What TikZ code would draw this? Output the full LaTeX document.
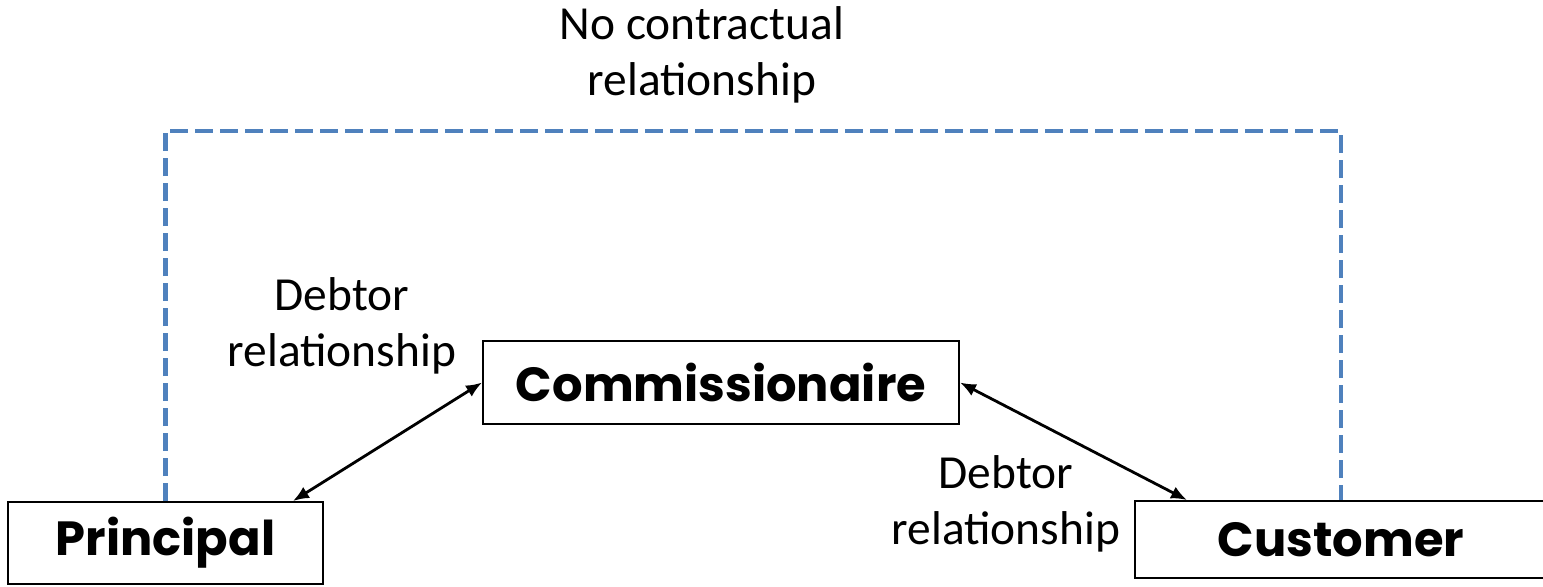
\documentclass[tikz,border=0pt]{standalone}
\usepackage{fontspec}
\setmainfont{Carlito}
\newfontfamily\boxfont{Poppins}
\usepackage{tikz}
\usetikzlibrary{arrows.meta,positioning,calc}
\usepackage{xcolor}
\definecolor{dashblue}{RGB}{79,129,189}

\tikzset{
  partybox/.style={draw, line width=1.1pt, inner sep=0pt, font=\boxfont\bfseries\fontsize{27.3}{32}\selectfont},
  relabel/.style={align=center, inner sep=0pt, font=\fontsize{27}{32}\selectfont},
  debtarrow/.style={{Latex[length=0.32cm,width=0.26cm]}-{Latex[length=0.32cm,width=0.26cm]}, line width=1.6pt},
}

\begin{document}
\begin{tikzpicture}[x=0.02cm, y=-0.02cm]

\useasboundingbox (0,0) rectangle (1543,586);

% boites
\node[partybox, minimum width=315*0.02cm, minimum height=82*0.02cm] (principal) at (165.5,543) {Principal};
\node[partybox, minimum width=476*0.02cm, minimum height=83*0.02cm] (commission) at (721,382.5) {Commissionaire};
\node[partybox, minimum width=412*0.02cm, minimum height=77*0.02cm] (customer) at (1341,539.5) {Customer};

% pas de contrat
\coordinate (top) at (700,131);
\draw[dashblue, line width=2.3pt, dash pattern=on 0.36cm off 0.14cm] (principal.north) |- (top) -| (customer.north);
\node[relabel] (nocontract) at (702,55) {No contractual\\relationship};

% relations
\draw[debtarrow] ($(principal.north east)+(-31,0)$) -- (commission.west);
\draw[debtarrow] (commission.east) -- ($(customer.north west)+(53,0)$);
\node[relabel] (debtleft) at (342,326) {Debtor\\relationship};
\node[relabel] (debtright) at (1006,504) {Debtor\\relationship};

\end{tikzpicture}
\end{document}
